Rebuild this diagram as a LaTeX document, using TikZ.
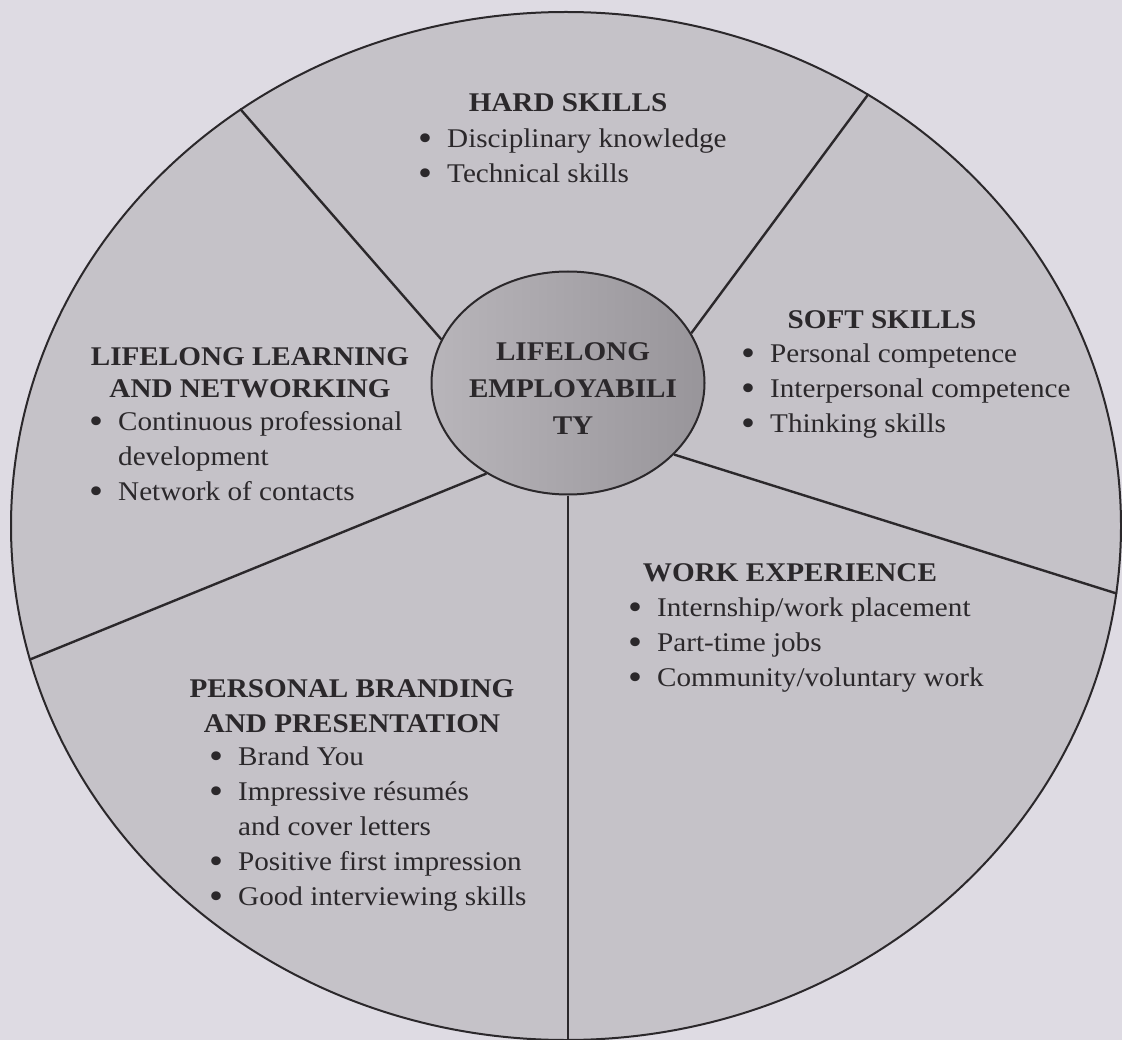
\documentclass[tikz,border=0pt]{standalone}
\usepackage{fontspec}
\setmainfont[FakeStretch=1.08]{Liberation Serif}
\usepackage{tikz}
\usetikzlibrary{shapes.geometric}

\definecolor{paper}{RGB}{222,219,227}
\definecolor{sector}{RGB}{197,194,200}
\definecolor{hublight}{RGB}{184,181,186}
\definecolor{hubdark}{RGB}{152,149,154}
\definecolor{ink}{RGB}{43,40,43}

% one bullet line, a continued line, a list and a centred title
\newcommand{\bigdot}{\raisebox{-3pt}{\fontsize{37}{35}\selectfont\textbullet}}
\newcommand{\itm}[1]{\makebox[29pt][l]{\bigdot}#1\\}
\newcommand{\cont}[1]{\makebox[29pt][l]{}#1\\}
\newcommand{\items}[1]{\begin{tabular}[t]{@{}l@{}}#1\end{tabular}}
\newcommand{\stack}[1]{\begin{tabular}[t]{@{}c@{}}#1\end{tabular}}

\begin{document}
\begin{tikzpicture}[x=1pt,y=-1pt,
  every node/.style={text=ink,font=\fontsize{27}{35}\selectfont},
  blockhead/.style={font=\fontsize{27}{35}\selectfont\bfseries,anchor=base,inner sep=0pt},
  blocklist/.style={anchor=base west,inner sep=0pt},
  divider/.style={draw=ink,line width=2.4pt}]
\useasboundingbox (0,0) rectangle (1122,1040);
\clip (0,0) rectangle (1122,1040);
\fill[paper] (0,0) rectangle (1122,1040);

% wheel and hub
\node[draw=ink,line width=2pt,fill=sector,ellipse,inner sep=0pt,
  minimum width=1110pt,minimum height=1028pt] (wheel) at (566,526) {};
\node[draw=ink,line width=2pt,ellipse,inner sep=0pt,left color=hublight,right color=hubdark,
  minimum width=273pt,minimum height=223pt] (hub) at (568,383) {};

% spokes
\draw[divider] (hub.161) -- (wheel.128);
\draw[divider] (hub.22) -- (wheel.55);
\draw[divider] (hub.-34) -- (wheel.-7);
\draw[divider] (hub.south) -- (hub.south |- wheel.south);
\draw[divider] (hub.-132) -- (wheel.-166);

\node[blockhead,font=\fontsize{27}{37}\selectfont\bfseries] (hubtext) at (573,361)
  {\stack{LIFELONG\\EMPLOYABILI\\TY}};

% hard skills
\node[blockhead] (hardhead) at (568,112) {HARD SKILLS};
\node[blocklist] (hardlist) at (418,148)
  {\items{\itm{Disciplinary knowledge}\itm{Technical skills}}};

% soft skills
\node[blockhead] (softhead) at (882,329) {SOFT SKILLS};
\node[blocklist] (softlist) at (741,363)
  {\items{\itm{Personal competence}\itm{Interpersonal competence}\itm{Thinking skills}}};

% lifelong learning
\node[blockhead,font=\fontsize{27}{32}\selectfont\bfseries] (learnhead) at (250,366)
  {\stack{LIFELONG LEARNING\\AND NETWORKING}};
\node[blocklist] (learnlist) at (89,431)
  {\items{\itm{Continuous professional}\cont{development}\itm{Network of contacts}}};

% work experience
\node[blockhead] (workhead) at (790,581) {WORK EXPERIENCE};
\node[blocklist] (worklist) at (628,616)
  {\items{\itm{Internship/work placement}\itm{Part-time jobs}\itm{Community/voluntary work}}};

% personal branding
\node[blockhead] (brandhead) at (352,697)
  {\stack{PERSONAL BRANDING\\AND PRESENTATION}};
\node[blocklist] (brandlist) at (209,765)
  {\items{\itm{Brand You}\itm{Impressive résumés}\cont{and cover letters}
    \itm{Positive first impression}\itm{Good interviewing skills}}};

\end{tikzpicture}
\end{document}
